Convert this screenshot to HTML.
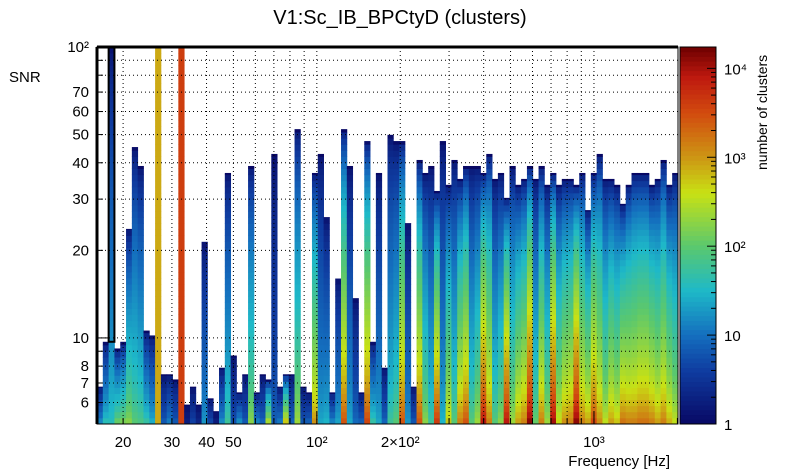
<!DOCTYPE html>
<html><head><meta charset="utf-8"><style>
html,body{margin:0;padding:0;background:#fff;}
svg{display:block;font-family:"Liberation Sans",sans-serif;}
</style></head><body>
<svg id="chart" width="805" height="472" viewBox="0 0 805 472">
<g id="cells"></g>
<g id="grid"></g>
<g id="axes"></g>
<g id="cbar"></g>
<text x="400" y="24" text-anchor="middle" font-size="20">V1:Sc_IB_BPCtyD (clusters)</text>
<text x="9" y="82" font-size="15">SNR</text>
<text x="670" y="466" text-anchor="end" font-size="15">Frequency [Hz]</text>
<text transform="translate(767,170) rotate(-90)" font-size="14">number of clusters</text>
</svg>
<script>
// per-column max SNR (100 log-spaced frequency bins, 16-2010 Hz)
const topSNR = [6.8,9.7,100,9.2,9.7,23.7,45.3,39.0,10.6,10.2,
100,7.5,7.5,7.2,100,5.9,6.8,5.9,21.4,6.2,
5.6,7.9,36.9,8.7,6.5,7.5,39.0,6.5,7.5,7.2,
42.9,6.8,7.5,7.5,52.2,6.8,6.5,36.9,42.9,26.0,
6.5,16.0,52.2,39.0,13.7,6.5,47.5,9.7,36.9,7.9,
49.9,47.5,47.5,24.8,6.8,40.9,36.9,39.0,32.0,47.5,
33.6,40.9,35.2,39.0,39.0,39.0,36.9,42.9,35.2,36.9,
30.3,39.0,33.6,35.2,39.0,35.2,39.0,33.6,36.9,33.6,
35.2,35.2,33.6,36.9,27.5,36.9,42.9,35.2,35.2,33.6,
28.9,33.6,36.9,36.9,36.9,33.6,35.2,40.9,33.6,36.9];
// per-column log10(count) at the lowest SNR
const peakLog = [1.3,1.7,1.6,2.2,2.3,2.3,2.0,1.9,1.8,1.5,
2.9,0.9,1.2,0.9,3.6,0.3,0.7,0.4,1.3,0.8,
0.3,1.3,1.8,0.8,1.4,0.9,2.3,1.3,1.0,2.7,
0.9,1.2,3.0,1.0,2.4,0.9,1.0,3.1,1.4,1.5,
1.3,1.4,3.5,1.4,1.0,1.0,3.6,1.8,1.4,1.0,
1.8,2.0,3.5,1.3,0.9,3.5,2.3,1.8,3.7,1.5,
2.8,2.0,3.2,3.5,2.0,2.4,4.0,3.2,2.0,2.3,
4.0,2.4,3.0,3.2,4.2,2.1,3.2,2.4,4.1,2.7,
3.1,3.2,4.2,3.2,3.0,3.6,3.1,2.6,3.0,2.8,
3.3,3.2,3.2,3.3,3.3,3.2,3.0,3.2,2.9,2.6];
// columns with uniform colour along full height
const flatCols = [10,14];
const xTicks = [20,30,40,50,60,70,80,90,100,200,300,400,500,600,700,800,900,1000,2000];
const xLabels = [[20,"20"],[30,"30"],[40,"40"],[50,"50"],[100,"10²"],[200,"2×10²"],[1000,"10³"]];
const yTicks = [6,7,8,9,10,20,30,40,50,60,70,80,90,100];
const yLabels = [[6,"6"],[7,"7"],[8,"8"],[10,"10"],[20,"20"],[30,"30"],[40,"40"],[50,"50"],[60,"60"],[70,"70"],[100,"10²"]];
const cTicks = [[1,"1"],[10,"10"],[100,"10²"],[1000,"10³"],[10000,"10⁴"]];

const NS="http://www.w3.org/2000/svg";
const L=97,R=678,T=47,B=424;
const fmin=16.1,fmax=2010,smin=5.06,smax=100,cmax=4.24;
const xs=f=>L+(Math.log10(f)-Math.log10(fmin))/(Math.log10(fmax)-Math.log10(fmin))*(R-L);
const ys=s=>B-(Math.log10(s)-Math.log10(smin))/(Math.log10(smax)-Math.log10(smin))*(B-T);
const cy=v=>424-(v/cmax)*(424-47);
const stops=[[0,[8,8,100]],[0.6,[15,60,160]],[1.0,[20,110,190]],[1.5,[30,185,200]],[2.0,[90,200,110]],[2.6,[200,225,20]],[3.0,[205,150,20]],[3.5,[210,75,15]],[3.9,[190,25,15]],[4.24,[110,0,0]]];
function col(v){v=Math.max(0,Math.min(cmax,v));for(let i=1;i<stops.length;i++){if(v<=stops[i][0]){const a=stops[i-1],b=stops[i],t=(v-a[0])/(b[0]-a[0]);const c=a[1].map((x,k)=>Math.round(x+(b[1][k]-x)*t));return `rgb(${c})`;}}return 'rgb(110,0,0)';}
function mk(tag,attrs,parent){const e=document.createElementNS(NS,tag);for(const k in attrs)e.setAttribute(k,attrs[k]);parent.appendChild(e);return e;}

const cells=document.getElementById('cells');
const N=topSNR.length, NR=62;
const lf0=Math.log10(fmin), lf1=Math.log10(fmax), ls0=Math.log10(smin), ls1=Math.log10(smax);
for(let i=0;i<N;i++){
  const x0=xs(10**(lf0+(lf1-lf0)*i/N)), x1=xs(10**(lf0+(lf1-lf0)*(i+1)/N));
  const lt=Math.log10(topSNR[i]);
  const flat=flatCols.includes(i);
  for(let r=0;r<NR;r++){
    const a=ls0+(ls1-ls0)*r/NR, b=ls0+(ls1-ls0)*(r+1)/NR;
    if(a>=lt-1e-6) break;
    const f=Math.min(1,((a+b)/2-ls0)/(lt-ls0));
    const v=flat?peakLog[i]:peakLog[i]*(0.82*Math.pow(1-f,0.5)+0.18*Math.exp(-8*f));
    const y0=ys(10**Math.min(b,lt)), y1=ys(10**a);
    const rc=mk('rect',{x:x0.toFixed(2),y:y0.toFixed(2),width:(x1-x0+0.4).toFixed(2),height:(y1-y0+0.4).toFixed(2),fill:col(v)},cells);
    
    
  }
}
// outlined column
{const x0=xs(10**(lf0+(lf1-lf0)*2/N)), x1=xs(10**(lf0+(lf1-lf0)*3/N));
 const o=mk('rect',{x:x0,y:T,width:x1-x0,height:ys(9.7)-T,fill:'none',stroke:'#000','stroke-width':2},cells);
 
 }

const grid=document.getElementById('grid');
xTicks.forEach(f=>{const x=xs(f);if(x>L+1&&x<R-1){const l=mk('line',{x1:x,x2:x,y1:T,y2:B,stroke:'#000','stroke-width':1,'stroke-dasharray':'1,3'},grid);

}});
yTicks.forEach(s=>{const y=ys(s);if(y>T+1&&y<B-1){const l=mk('line',{x1:L,x2:R,y1:y,y2:y,stroke:'#000','stroke-width':1,'stroke-dasharray':'1,3'},grid);

}});

const axes=document.getElementById('axes');
const fr=mk('rect',{x:L,y:T,width:R-L,height:B-T,fill:'none',stroke:'#000','stroke-width':1},axes);


const tl=mk('line',{x1:L,x2:R,y1:T,y2:T,stroke:'#000','stroke-width':3},axes);


const ll=mk('line',{x1:L,x2:L,y1:T,y2:B,stroke:'#000','stroke-width':3},axes);


xTicks.forEach(f=>{const x=xs(f);const big=[100,1000].includes(f);const t=mk('line',{x1:x,x2:x,y1:B,y2:B-(big?12:6),stroke:'#000'},axes);

});
xLabels.forEach(([f,s])=>{const t=mk('text',{x:xs(f),y:447,'text-anchor':'middle','font-size':15},axes);t.textContent=s;

});
yTicks.forEach(s=>{const y=ys(s);const t=mk('line',{x1:L,x2:L+((s===10||s===100)?12:6),y1:y,y2:y,stroke:'#000'},axes);

});
yLabels.forEach(([s,str])=>{const t=mk('text',{x:89,y:ys(s)+5,'text-anchor':'end','font-size':15},axes);t.textContent=str;

});

const cb=document.getElementById('cbar');
for(let k=0;k<80;k++){const v0=cmax*k/80,v1=cmax*(k+1)/80;
 const r=mk('rect',{x:680,y:cy(v1),width:36,height:cy(v0)-cy(v1)+0.5,fill:col((v0+v1)/2)},cb);
 
 }
const cbf=mk('rect',{x:680,y:47,width:36,height:377,fill:'none',stroke:'#000'},cb);


for(let d=0;d<5;d++){for(let m=1;m<10;m++){const v=d+Math.log10(m);if(v>cmax)break;const y=cy(v);
 const t=mk('line',{x1:716,x2:716-(m===1?9:5),y1:y,y2:y,stroke:'#000'},cb);
 
 }}
cTicks.forEach(([v,s])=>{const t=mk('text',{x:724,y:cy(Math.log10(v))+6,'font-size':15},cb);t.textContent=s;

});
</script>
</body></html>
